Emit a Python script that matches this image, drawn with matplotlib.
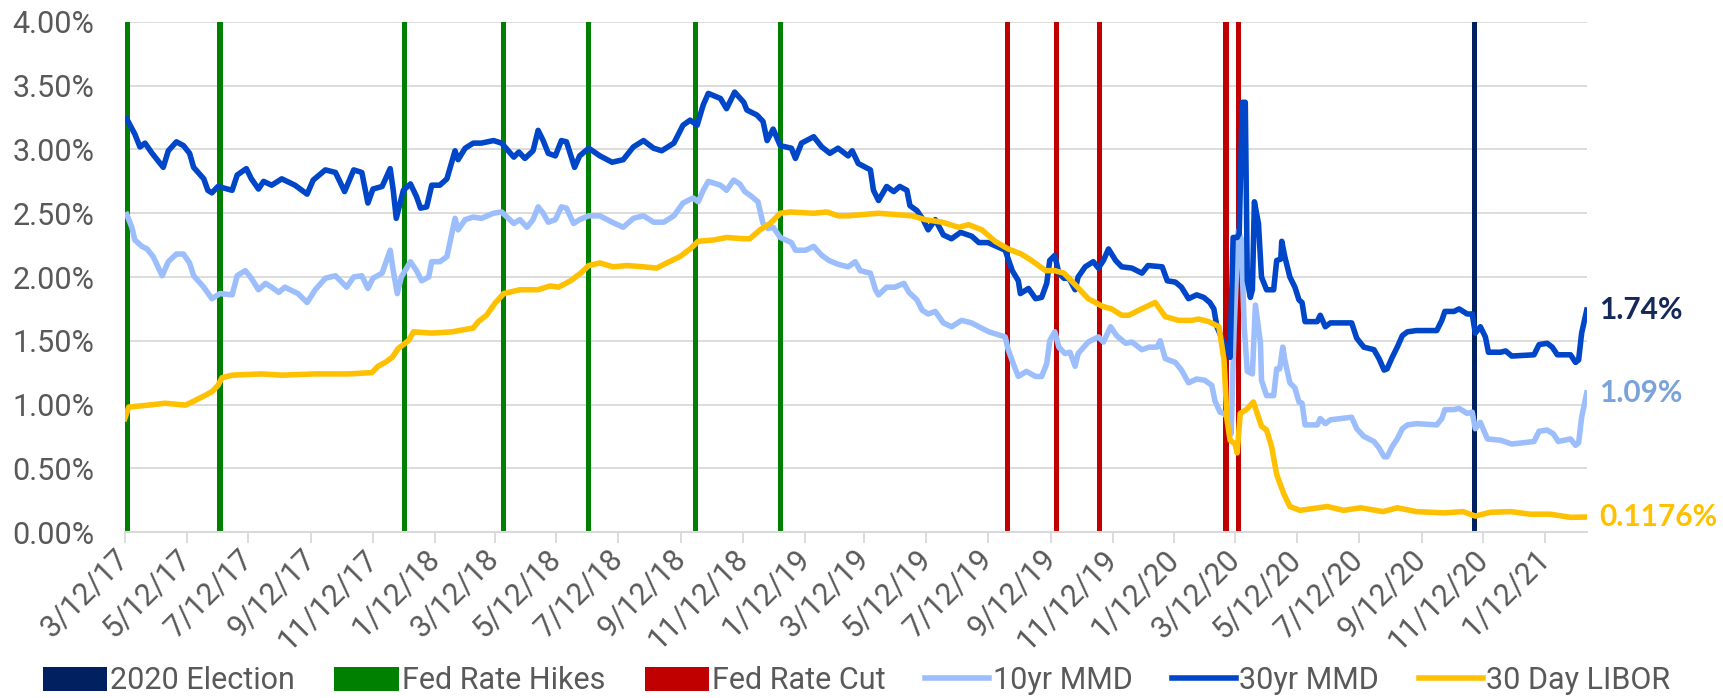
import pandas as pd
import matplotlib
matplotlib.use('Agg')
import matplotlib.pyplot as plt
from matplotlib.patches import Patch
from matplotlib.lines import Line2D

# 起点日期，序列横坐标为距起点的天数
start = pd.Timestamp('2017-03-12')
end_day = 1443

# 30yr MMD
mmd30_days = [2, 10, 15, 20, 27, 38, 43, 51, 58, 64, 68, 78, 82, 86, 92, 106, 111, 120, 125, 132,
              137, 145, 155, 168, 180, 186, 198, 208, 217, 226, 234, 240, 245, 254, 262, 265, 268, 275, 282, 288,
              292, 298, 303, 311, 318, 326, 329, 336, 344, 352, 364, 372, 384, 389, 395, 403, 408, 413, 418, 425,
              431, 436, 444, 449, 458, 469, 481, 492, 502, 512, 522, 530, 542, 551, 558, 565, 571, 576, 588, 594,
              602, 611, 614, 624, 630, 634, 640, 647, 658, 662, 668, 680, 688, 696, 704, 714, 718, 724, 736, 739,
              744, 752, 759, 765, 772, 775, 782, 788, 793, 800, 808, 816, 825, 836, 843, 852, 869, 876, 882, 884,
              892, 899, 905, 910, 913, 918, 922, 927, 932, 938, 941, 948, 956, 961, 966, 971, 978, 984, 994, 1004,
              1010, 1024, 1029, 1037, 1043, 1050, 1058, 1065, 1071, 1075, 1078, 1085, 1089, 1091, 1094, 1098, 1100,
              1103, 1106, 1108, 1111, 1113, 1115, 1119, 1122, 1127, 1134, 1137, 1141, 1142, 1145, 1150, 1155, 1159,
              1162, 1165, 1177, 1180, 1185, 1190, 1211, 1216, 1223, 1233, 1238, 1243, 1246, 1251, 1256, 1261, 1266,
              1275, 1295, 1300, 1303, 1312, 1317, 1325, 1330, 1333, 1338, 1343, 1346, 1358, 1363, 1369, 1391, 1396,
              1404, 1409, 1414, 1427, 1432, 1435, 1438, 1443]
mmd30 = [3.24, 3.12, 3.02, 3.05, 2.97, 2.86, 2.99, 3.06, 3.03, 2.97, 2.86, 2.77, 2.68, 2.66, 2.71, 2.68, 2.80, 2.85, 2.77, 2.69,
         2.75, 2.72, 2.77, 2.72, 2.65, 2.76, 2.84, 2.82, 2.67, 2.84, 2.82, 2.58, 2.69, 2.71, 2.85, 2.68, 2.46, 2.68, 2.73, 2.63,
         2.54, 2.55, 2.72, 2.72, 2.77, 2.99, 2.92, 3.01, 3.05, 3.05, 3.07, 3.05, 2.94, 2.98, 2.93, 2.99, 3.15, 3.07, 2.97, 2.95,
         3.07, 3.06, 2.86, 2.95, 3.01, 2.95, 2.90, 2.92, 3.02, 3.07, 3.01, 2.99, 3.05, 3.19, 3.23, 3.19, 3.35, 3.44, 3.40, 3.32,
         3.45, 3.37, 3.31, 3.27, 3.22, 3.07, 3.16, 3.03, 3.01, 2.93, 3.05, 3.10, 3.02, 2.97, 3.01, 2.95, 2.99, 2.89, 2.84, 2.68,
         2.60, 2.71, 2.67, 2.71, 2.68, 2.56, 2.52, 2.45, 2.37, 2.45, 2.33, 2.30, 2.35, 2.32, 2.27, 2.27, 2.21, 2.05, 1.97, 1.87,
         1.91, 1.83, 1.84, 1.95, 2.13, 2.17, 2.03, 1.99, 1.99, 1.90, 2.00, 2.08, 2.12, 2.07, 2.13, 2.22, 2.13, 2.08, 2.07, 2.03,
         2.09, 2.08, 1.97, 1.96, 1.92, 1.83, 1.86, 1.84, 1.80, 1.75, 1.61, 1.48, 1.43, 1.37, 2.31, 2.31, 2.34,
         3.37, 3.37, 1.97, 1.84, 1.90, 2.59, 2.42, 2.00, 1.90, 1.90, 2.13, 2.14, 2.28, 2.16, 2.00, 1.92, 1.82,
         1.80, 1.65, 1.65, 1.70, 1.61, 1.64, 1.64, 1.52, 1.45, 1.43, 1.36, 1.27, 1.28, 1.37, 1.45, 1.54, 1.57,
         1.58, 1.58, 1.66, 1.73, 1.73, 1.75, 1.71, 1.71, 1.56, 1.61, 1.53, 1.41, 1.41, 1.42, 1.38, 1.39, 1.47,
         1.48, 1.45, 1.39, 1.39, 1.33, 1.35, 1.56, 1.74]

# 10yr MMD
mmd10_days = [2, 7, 10, 17, 22, 28, 37, 43, 51, 58, 64, 68, 78, 86, 94, 106, 111, 119, 125, 132,
              139, 145, 152, 158, 171, 180, 188, 198, 208, 219, 226, 234, 240, 245, 254, 262, 265, 269, 273, 282,
              288, 293, 300, 303, 311, 318, 326, 329, 336, 344, 352, 364, 372, 384, 390, 397, 403, 408, 413, 418,
              425, 431, 436, 443, 449, 458, 469, 481, 492, 502, 512, 522, 532, 542, 551, 561, 566, 571, 576, 588,
              594, 601, 607, 612, 619, 625, 630, 635, 640, 647, 658, 662, 672, 680, 688, 695, 704, 714, 721, 726,
              736, 741, 744, 752, 760, 769, 774, 782, 787, 793, 800, 808, 816, 826, 836, 843, 853, 869, 872, 877,
              882, 890, 899, 905, 910, 913, 918, 922, 928, 933, 938, 941, 951, 961, 966, 973, 979, 988, 994, 1004,
              1011, 1019, 1022, 1027, 1037, 1043, 1050, 1058, 1066, 1073, 1076, 1081, 1085, 1090, 1092, 1095, 1099,
              1102, 1105, 1108, 1113, 1116, 1121, 1122, 1127, 1134, 1137, 1140, 1143, 1145, 1150, 1155, 1159, 1162,
              1165, 1177, 1180, 1185, 1190, 1211, 1216, 1223, 1233, 1238, 1243, 1246, 1251, 1256, 1261, 1266, 1275,
              1295, 1300, 1303, 1312, 1317, 1325, 1330, 1333, 1338, 1345, 1358, 1369, 1391, 1396, 1404, 1410, 1415,
              1427, 1432, 1435, 1438, 1443]
mmd10 = [2.49, 2.39, 2.29, 2.24, 2.22, 2.16, 2.01, 2.12, 2.18, 2.18, 2.11, 2.01, 1.92, 1.83, 1.87, 1.86, 2.01, 2.05, 1.99, 1.90,
         1.95, 1.92, 1.88, 1.92, 1.87, 1.80, 1.90, 1.99, 2.01, 1.92, 2.00, 2.01, 1.91, 1.99, 2.03, 2.21, 2.05, 1.87, 2.00, 2.12,
         2.05, 1.97, 2.00, 2.12, 2.12, 2.16, 2.46, 2.37, 2.45, 2.47, 2.46, 2.50, 2.51, 2.42, 2.45, 2.39, 2.45, 2.55, 2.50, 2.43,
         2.45, 2.55, 2.54, 2.42, 2.45, 2.48, 2.48, 2.43, 2.39, 2.46, 2.48, 2.43, 2.43, 2.48, 2.58, 2.62, 2.59, 2.68, 2.75, 2.72,
         2.68, 2.76, 2.73, 2.67, 2.63, 2.59, 2.42, 2.38, 2.39, 2.31, 2.27, 2.21, 2.21, 2.24, 2.17, 2.13, 2.10, 2.08, 2.12, 2.05,
         2.03, 1.90, 1.86, 1.92, 1.92, 1.95, 1.88, 1.82, 1.74, 1.71, 1.73, 1.64, 1.61, 1.66, 1.64, 1.61, 1.57, 1.53, 1.43, 1.32,
         1.22, 1.26, 1.22, 1.22, 1.32, 1.50, 1.57, 1.45, 1.40, 1.41, 1.30, 1.40, 1.49, 1.53, 1.49, 1.61, 1.54, 1.48, 1.49, 1.43,
         1.45, 1.45, 1.50, 1.36, 1.33, 1.27, 1.17, 1.20, 1.19, 1.15, 1.03, 0.94, 0.93, 0.88, 0.77, 1.60, 2.36,
         2.30, 1.60, 1.26, 1.24, 1.78, 1.48, 1.19, 1.07, 1.07, 1.28, 1.28, 1.45, 1.35, 1.17, 1.13, 1.02, 1.01,
         0.84, 0.84, 0.89, 0.85, 0.88, 0.90, 0.81, 0.75, 0.71, 0.66, 0.59, 0.59, 0.67, 0.73, 0.81, 0.84, 0.85,
         0.84, 0.89, 0.96, 0.96, 0.97, 0.93, 0.94, 0.81, 0.86, 0.73, 0.72, 0.69, 0.71, 0.79, 0.80, 0.77, 0.71,
         0.73, 0.68, 0.70, 0.90, 1.09]

# 30 Day LIBOR
libor_days = [0, 4, 23, 40, 60, 69, 79, 86, 92, 96, 106, 135, 155, 188, 221, 244, 250, 257, 264, 270,
              280, 285, 303, 323, 344, 349, 357, 366, 374, 390, 408, 420, 428, 440, 450, 458, 469, 482, 496, 512,
              525, 535, 548, 558, 566, 581, 594, 611, 617, 627, 637, 647, 657, 680, 693, 704, 714, 744, 777, 790,
              807, 823, 833, 846, 859, 872, 885, 895, 909, 918, 927, 938, 951, 965, 974, 984, 991, 1001, 1009, 1017,
              1027, 1040, 1053, 1060, 1070, 1080, 1085, 1088, 1091, 1096, 1098, 1101, 1107, 1114, 1119, 1122, 1127,
              1132, 1137, 1144, 1150, 1160, 1187, 1203, 1220, 1242, 1256, 1275, 1302, 1321, 1333, 1348, 1368, 1387,
              1407, 1427, 1443]
libor = [0.89, 0.98, 0.995, 1.01, 0.995, 1.03, 1.07, 1.10, 1.15, 1.21, 1.23, 1.24, 1.23, 1.24, 1.24, 1.25, 1.30, 1.33, 1.37, 1.44,
         1.50, 1.57, 1.56, 1.57, 1.60, 1.65, 1.70, 1.80, 1.87, 1.90, 1.90, 1.93, 1.92, 1.97, 2.03, 2.09, 2.11, 2.08, 2.09, 2.08,
         2.07, 2.11, 2.16, 2.22, 2.28, 2.29, 2.31, 2.30, 2.30, 2.37, 2.42, 2.50, 2.51, 2.50, 2.51, 2.48, 2.48, 2.50, 2.48, 2.45,
         2.43, 2.39, 2.41, 2.37, 2.28, 2.22, 2.18, 2.13, 2.05, 2.05, 2.03, 1.94, 1.83, 1.77, 1.75, 1.70, 1.70, 1.74, 1.77, 1.80,
         1.69, 1.66, 1.66, 1.67, 1.65, 1.61, 1.35, 0.88, 0.72, 0.69, 0.62, 0.93, 0.96, 1.02, 0.90, 0.83, 0.80,
         0.67, 0.45, 0.30, 0.20, 0.17, 0.20, 0.17, 0.19, 0.16, 0.19, 0.16, 0.15, 0.16, 0.125, 0.155, 0.16, 0.14,
         0.14, 0.115, 0.1176]

hike_dates = ['2017-03-15', '2017-06-14', '2017-12-13', '2018-03-21', '2018-06-13', '2018-09-26', '2018-12-19']
cut_dates = ['2019-07-31', '2019-09-18', '2019-10-30', '2020-03-03', '2020-03-15']
election_dates = ['2020-11-03']

tick_labels = ['3/12/17', '5/12/17', '7/12/17', '9/12/17', '11/12/17', '1/12/18', '3/12/18', '5/12/18',
               '7/12/18', '9/12/18', '11/12/18', '1/12/19', '3/12/19', '5/12/19', '7/12/19', '9/12/19',
               '11/12/19', '1/12/20', '3/12/20', '5/12/20', '7/12/20', '9/12/20', '11/12/20', '1/12/21']

end_labels = ['1.74%', '1.09%', '0.1176%']

c_election = '#002060'
c_hike = '#008000'
c_cut = '#C00000'
c_10 = '#9DBEFC'
c_30 = '#0046C8'
c_libor = '#FFC000'
grey = '#595959'
grid = '#D9D9D9'
fs = 22

plt.rcParams['font.family'] = ['Roboto', 'DejaVu Sans']


def to_dates(days):
    return start + pd.to_timedelta(days, unit='D')


fig = plt.figure(figsize=(17.23, 6.98), dpi=100)
ax = fig.add_axes([0.0724, 0.2378, 0.8485, 0.7307])

# 事件竖线（柱形）
bar_w = 5.2
ax.bar(pd.to_datetime(election_dates), [4.0] * len(election_dates), width=bar_w, color=c_election, zorder=2)
ax.bar(pd.to_datetime(hike_dates), [4.0] * len(hike_dates), width=bar_w, color=c_hike, zorder=2)
ax.bar(pd.to_datetime(cut_dates), [4.0] * len(cut_dates), width=bar_w, color=c_cut, zorder=2)

lw = 4.0
ax.plot(to_dates(mmd10_days), mmd10, color=c_10, lw=lw, zorder=3, solid_joinstyle='round')
ax.plot(to_dates(mmd30_days), mmd30, color=c_30, lw=lw, zorder=4, solid_joinstyle='round')
ax.plot(to_dates(libor_days), libor, color=c_libor, lw=lw, zorder=5, solid_joinstyle='round')

# 末端数值标签
end_x = to_dates([end_day])[0]
for val, txt, col in zip([mmd30[-1], mmd10[-1], libor[-1]], end_labels, ['#14285A', '#7BA3DA', c_libor]):
    ax.annotate(txt, xy=(end_x, val), xytext=(9, 0), textcoords='offset points',
                va='center', ha='left', fontsize=21.5, fontweight='bold', color=col,
                family=['Lato', 'DejaVu Sans'], annotation_clip=False)

ax.set_xlim(start, end_x)
ax.set_ylim(0, 4)
ax.set_yticks([i * 0.5 for i in range(9)])
ax.set_yticklabels([f'{i * 0.5:.2f}%' for i in range(9)])
ax.yaxis.grid(True, color=grid, lw=1.3, zorder=0)
ax.set_axisbelow(True)

ticks = pd.to_datetime(tick_labels, format='%m/%d/%y')
ax.set_xticks(ticks)
ax.set_xticklabels(tick_labels, rotation=45, ha='right', va='center', rotation_mode='anchor')

for s in ['top', 'right', 'left']:
    ax.spines[s].set_visible(False)
ax.spines['bottom'].set_color(grid)
ax.spines['bottom'].set_linewidth(1.5)
ax.tick_params(axis='y', length=0, pad=22, labelsize=fs, labelcolor=grey)
ax.tick_params(axis='x', length=8, width=1.3, color=grid, pad=8, labelsize=fs, labelcolor=grey)

handles = [Patch(facecolor=c_election, edgecolor='none'),
           Patch(facecolor=c_hike, edgecolor='none'),
           Patch(facecolor=c_cut, edgecolor='none'),
           Line2D([], [], color=c_10, lw=lw),
           Line2D([], [], color=c_30, lw=lw),
           Line2D([], [], color=c_libor, lw=lw)]
labels = ['2020 Election', 'Fed Rate Hikes', 'Fed Rate Cut', '10yr MMD', '30yr MMD', '30 Day LIBOR']
fig.legend(handles, labels, loc='center', bbox_to_anchor=(0.497, 0.0244), ncol=6, frameon=False,
           handlelength=2.1, handleheight=0.8, handletextpad=0.1, columnspacing=1.3,
           fontsize=fs, labelcolor=grey)

fig.savefig('out.png', dpi=100)
